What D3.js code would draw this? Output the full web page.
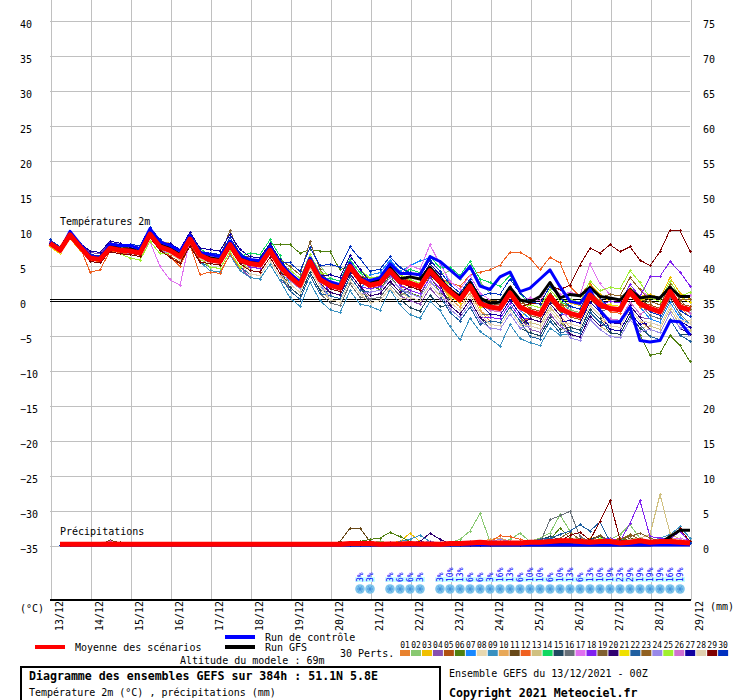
<!DOCTYPE html>
<html>
<head>
<meta charset="utf-8">
<script src="https://cdn.jsdelivr.net/npm/d3@7"></script>
<style>
body { margin: 0; background: #fff; }
text { font-family: "DejaVu Sans Mono", monospace; }
</style>
</head>
<body>
<div id="chart"></div>
<script>
// dates (one tick per day, 6h steps between)
const days = ["13/12","14/12","15/12","16/12","17/12","18/12","19/12","20/12","21/12",
  "22/12","23/12","24/12","25/12","26/12","27/12","28/12","29/12"];

// 2m temperature, every 6h (65 steps)
const meanTemp = [8.1,7.1,9.3,7.6, 6,5.8,7.4,7.1, 7,6.7,9.4,7.6, 7.1,6.2,8.7,6.4, 5.7,5.5,7.9,5.7, 5.2,5,7.1,4.8, 3.3,2.1,5.5,2.9, 2.1,1.7,4.8,2.9, 2.1,2.4,4.2,2.6, 2.4,1.9,4.2,2.6, 1.2,0,2,-0.5, -1,-1.2,1,-1, -1.7,-2.1,0.5,-1.2, -1.9,-2.3,0.7,-0.7, -1.2,-1.4,1.2,-0.5, -1.2,-1.7,1.2,-1, -1.4];
const ctrlTemp = [8.3,7,9.8,8, 6.3,6,8,7.8, 7.8,7.3,10.2,8.3, 7.8,7,9.2,6.8, 6.5,6.2,8.4,6.3, 5.8,5.6,7.6,5.3, 3.8,2.6,6,3.4, 2.6,2.2,5.3,3, 2.8,3.2,5.2,3.8, 3.8,3.6,6.2,5.5, 4.3,3.1,4.8,2, 1.5,3.3,4,1.2, 1.7,3,4.3,1.9, -0.2,-0.5,1.5,-1.5, -3.1,-3.1,-1,-5.8, -6,-5.8,-3,-3.1, -5];
const gfsTemp = [8.2,7.2,9.5,7.8, 6.2,6,7.8,7.3, 7.3,6.9,9.8,7.9, 7.4,6.5,9,6.6, 6,5.8,8.3,6, 5.5,5.3,7.5,5, 3.5,2.5,5.8,3.2, 2.5,2,5,3.2, 2.6,2.9,4.7,3, 3.3,3,4.7,3, 1.5,0.5,2.5,0.3, -0.5,-0.3,1.8,0, -0.3,0.5,2.5,0.3, 0.8,0.6,1.8,0.5, 0.3,0,1.5,0.3, 0.5,0.3,1.8,0.5, 0.5];

const t01 = [8.1,7.1,9.3,7.6, 5.5,5.3,6.9,6.6, 7,6.7,9.4,7.6, 6.8,5.9,8.4,6.1, 4.7,4.5,6.9,4.7, 3.7,3.5,5.6,3.3, 2.3,1.1,4.5,1.9, 0.1,-0.3,2.8,0.9, 1.1,1.4,3.2,1.6, 2.4,1.9,4.2,2.6, 0.2,-1,1,-1.5, -3,-3.2,-1,-3, -2.7,-3.1,-0.5,-2.2, -1.9,-2.3,0.7,-0.7, -0.2,-0.4,2.2,0.5, -1.2,-1.7,1.2,-1, -2.4];
const t02 = [8.4,7.4,9.6,7.9, 6.5,6.3,7.9,7.6, 6.5,6.2,8.9,7.1, 7.1,6.2,8.7,6.4, 6.7,6.5,8.9,6.7, 5.7,5.5,7.6,5.3, 5.3,4.1,7.5,4.9, 3.1,2.7,5.8,3.9, 2.1,2.4,4.2,2.6, 3.4,2.9,5.2,3.6, 4.2,3,5,2.5, 1,0.8,3,1, -0.7,-1.1,1.5,-0.2, -1.4,-1.8,1.2,-0.2, -1.7,-1.9,0.7,-1, -0.2,-0.7,2.2,0, 0.6];
const t03 = [7.9,6.9,9.1,7.4, 6.3,6.1,7.7,7.4, 7.5,7.2,9.9,8.1, 7.9,7,9.5,7.2, 6.2,6,8.4,6.2, 4.7,4.5,6.6,4.3, 2.3,1.1,4.5,1.9, 2.6,2.2,5.3,3.4, 3.1,3.4,5.2,3.6, 2.9,2.4,4.7,3.1, 0.2,-1,1,-1.5, -2.5,-2.7,-0.5,-2.5, -1.2,-1.6,1,-0.7, -0.4,-0.8,2.2,0.8, -0.2,-0.4,2.2,0.5, 0.8,0.3,3.2,1, 0.1];
const t04 = [8.6,7.6,9.8,8.1, 6.8,6.6,8.2,7.9, 7.3,7,9.7,7.9, 6.6,5.7,8.2,5.9, 4.7,4.5,6.9,4.7, 3.2,3,5.1,2.8, 1.8,0.6,4,1.4, 1.1,0.7,3.8,1.9, 0.1,0.4,2.2,0.6, -0.1,-0.6,1.7,0.1, 0.2,-1,1,-1.5, -2.5,-2.7,-0.5,-2.5, -4.2,-4.6,-2,-3.7, -4.9,-5.3,-2.3,-3.7, -3.2,-3.4,-0.8,-2.5, -2.7,-3.2,-0.3,-2.5, -3.4];
const t05 = [8.1,7.1,9.3,7.6, 5.7,5.5,7.1,6.8, 6.5,6.2,8.9,7.1, 6.3,5.4,7.9,5.6, 5.7,5.5,7.9,5.7, 5.7,5.5,7.6,5.3, 4.3,3.1,6.5,3.9, 2.1,1.7,4.8,2.9, 1.6,1.9,3.7,2.1, 3.4,2.9,5.2,3.6, 1.2,0,2,-0.5, -0.5,-0.7,1.5,-0.5, -0.7,-1.1,1.5,-0.2, -2.4,-2.8,0.2,-1.2, -1.2,-1.4,1.2,-0.5, -0.7,-1.2,1.7,-0.5, -0.9];
const t06 = [8.1,7.1,9.3,7.6, 6.2,6,7.6,7.3, 6.7,6.4,9.1,7.3, 7.1,6.2,8.7,6.4, 6.2,6,8.4,6.2, 5.5,5.5,8,7.9, 7.9,6.7,7.2,7, 6.9,4.3,5,2.5, 2,1.5,3.5,1.5, 1,0.5,3.5,1, 0.2,-1,1,-1.5, -2.5,-2.7,-0.5,-2.5, -3.7,-4.1,-1.5,-3.2, -4.4,-4.8,-1.8,-3.2, -4.2,-4.4,-1.8,-5, -7.9,-7.6,-5.1,-6.5, -8.8];
const t07 = [8.4,7.4,9.6,7.9, 6,5.8,7.4,7.1, 7.5,7.2,9.9,8.1, 7.6,6.7,9.2,6.9, 6.7,6.5,8.9,6.7, 5.7,5.5,7.6,5.3, 2.3,1.1,4.5,1.9, 0.6,0.2,3.3,1.4, 3.6,3.9,5.7,4.1, 4.9,5.6,6,5.5, 2.2,1,3,0.5, -1.5,-1.7,0.5,-1.5, -2.7,-3.1,-0.5,-2.2, -0.9,-1.3,1.7,0.3, -1.7,-1.9,0.7,-1, -2.7,-3.2,-0.3,-2.5, -3.4];
const t08 = [7.8,6.8,9,7.3, 6,5.8,7.4,7.1, 7.3,7,9.7,7.9, 7.9,7,9.5,7.2, 6.2,6,8.4,6.2, 4.7,4.5,6.6,4.3, 2.8,1.6,5,2.4, 0.6,0.2,3.3,1.4, 1.1,1.4,3.2,1.6, 1.4,0.9,3.2,1.6, -0.8,-2,0,-2.5, -3.5,-3.7,-1.5,-3.5, -4.7,-5.1,-2.5,-4.2, -4.4,-4.8,-1.8,-3.2, -4.2,-4.4,-1.8,-3.5, -3.2,-3.7,-0.8,-3, -2.9];
const t09 = [7.9,6.9,9.1,7.4, 6,5.8,7.4,7.1, 6.5,6.2,8.9,7.1, 6.1,5.2,7.7,5.4, 4.2,4,6.4,4.2, 3.2,3,5.1,2.8, 0.3,-0.9,2.5,-0.1, -1.4,-1.8,1.3,-0.6, -0.9,-1.5,1.5,-0.7, -2.1,-2.6,-0.2,-1.5, -3.8,-5.7,-2.6,-4.5, -5.5,-6.6,-3.5,-5.5, -6.1,-6.5,-4,-5, -4.9,-5.3,-2.3,-3.7, -3.7,-3.9,-1.3,-3, -3.2,-3.7,-0.8,-3, -3.9];
const t10 = [8.3,7.3,9.5,7.8, 6.5,6.3,7.9,7.6, 7.8,7.5,10.2,8.4, 8.1,7.2,9.7,7.4, 6.2,6,8.4,6.2, 5.2,5,7.1,4.8, 3.8,2.6,6,3.4, 1.6,1.2,4.3,2.4, 2.1,2.4,4.2,2.6, 1.9,1.4,3.7,2.1, 0.2,-1,1,-1.5, -2.5,-2.7,-0.5,-2.5, -2.7,-3.1,-0.5,-2.2, -3.9,-4.3,-1.3,-2.7, -3.7,-3.9,-1.3,-3, -4.2,-4.7,-1.8,-4, -3.9];
const t11 = [8.1,7.1,9.3,7.6, 5.5,5.3,6.9,6.6, 6.7,6.4,9.1,7.3, 7.1,6.2,8.7,6.4, 6.2,6,8.4,6.2, 6.2,6,8.1,5.8, 3.8,2.6,6,3.4, 2.1,1.7,4.8,2.9, 1.6,1.9,3.7,2.1, 2.9,2.4,4.7,3.1, 2.2,1,3,0.5, -1,-1.2,1,-1, -2.2,-2.6,0,-1.7, -1.9,-2.3,0.7,-0.7, -0.2,-0.4,2.2,0.5, -1.2,-1.7,1.2,-1, -1.9];
const t12 = [8.1,7.1,9.3,7.6, 4,4.3,7,6.8, 6.5,6.2,8.9,7.1, 6.2,4.8,7.8,3.6, 4,3.8,6.6,4.5, 4.7,4.5,6.6,4.3, 3.3,2.1,5.5,2.9, 2.6,2.2,5.3,3.4, 2.6,2.9,4.7,3.1, 2.9,2.4,4.7,3.1, 2.5,2,3.5,4, 4.3,5,6.8,6.8, 6,4.3,6.1,5.3, 1.9,0.5,2.5,0, -1.7,-1.9,0.7,-1, -1.2,-1.7,1.2,-1, -1.4];
const t13 = [7.6,6.6,8.8,7.1, 5.7,5.5,7.1,6.8, 7,6.7,9.4,7.6, 7.4,6.5,9,6.7, 5.7,5.5,7.9,5.7, 4.2,4,6.1,3.8, 1.8,0.6,4,1.4, 0.1,-0.3,2.8,0.9, 0.6,0.9,2.7,1.1, 0.4,-0.1,2.2,0.6, -1.8,-3,-1,-3.5, -3,-3.2,-1,-3, -3.2,-3.6,-1,-2.7, -4.9,-5.3,-2.3,-3.7, -4.7,-4.9,-2.3,-4, -3.7,-4.2,-1.3,-3.5, -4.4];
const t14 = [8.4,7.4,9.6,7.9, 6,5.8,7.4,7.1, 7.5,7.2,9.9,8.1, 8.1,7.2,9.7,7.4, 6.2,6,8.4,6.2, 6.7,6.5,8.6,6.3, 3.3,2.1,5.5,2.9, 3.1,2.7,5.8,3.9, 3.1,3.4,5.2,3.6, 4.4,3.9,6.2,4.6, 4.7,3.5,5.5,3, 2.5,2,3.5,1, -0.7,-1.1,1.5,-0.2, -0.9,-1.3,1.7,0.3, 0.8,0.6,3.2,1.5, 0.3,-0.2,2.7,0.5, -0.4];
const t15 = [8.1,7.1,9.3,7.6, 6.5,6.3,7.9,7.6, 7,6.7,9.4,7.6, 7.6,6.7,9.2,6.9, 5.7,5.5,7.9,5.7, 4.7,4.5,6.6,4.3, 1.8,0.6,4,1.4, 1.1,0.7,3.8,1.9, -0.4,-0.1,1.7,0.1, -1.1,-1.6,0.7,-0.9, -0.8,-2,0,-2.5, -4,-4.2,-2,-4, -4.7,-5.1,-2.5,-4.2, -3.9,-4.3,-1.3,-2.7, -4.7,-4.9,-2.3,-4, -5.2,-5.7,-2.8,-5, -4.9];
const t16 = [7.8,6.8,9,7.3, 5.5,5.3,6.9,6.6, 7,6.7,9.4,7.6, 7.1,6.2,8.7,6.4, 5.2,5,7.4,5.2, 4.2,4,6.1,3.8, 1.3,0.1,3.5,0.9, -0.4,-0.8,2.3,0.4, 0.1,0.4,2.2,0.6, 1.4,0.9,3.2,1.6, -0.3,-1.5,0.5,-2, -2,-2.2,0,-2, -3.7,-4.1,-1.5,-3.2, -2.9,-3.3,-0.3,-1.7, -1.2,-1.4,1.2,-0.5, -2.2,-2.7,0.2,-2, -3.4];
const t17 = [8.3,7.3,9.5,7.8, 6,5.8,7.4,7.1, 7,6.6,8.3,4.8, 2.9,2.1,8.6,6, 6.2,6,8.4,6.2, 5.2,5,7.1,4.8, 4.3,3.1,6.5,3.9, 2.6,2.2,5.3,3.4, 3.1,3.4,5.2,3.6, 4.9,4.4,7.9,5.1, 2.7,1.5,3.5,1, 0,-0.2,2,0, 0.3,-0.1,2.5,0.8, 1.1,0.7,5.2,2.3, 0.8,0.6,3.2,1.5, 0.3,-0.2,2.7,0.5, 0.6];
const t18 = [8.6,7.6,9.8,8.1, 6.3,6.1,7.7,7.4, 7,6.7,9.4,7.6, 7.6,6.7,9.2,6.9, 5.7,5.5,7.9,5.7, 4.7,4.5,6.6,4.3, 3.8,2.6,6,3.4, 1.1,0.7,3.8,1.9, 1.6,1.9,3.7,2.1, 1.4,0.9,3.2,1.6, -0.8,-2,0,-2.5, -2.5,-2.7,-0.5,-2.5, -2.7,-3.1,-0.5,-2.2, -1.9,-2.3,0.7,-0.7, -0.2,-0.4,2.2,0.5, 3.3,3.4,5.5,4, 2];
const t19 = [8.1,7.1,9.3,7.6, 6.3,6.1,7.7,7.4, 7.8,7.5,10.2,8.4, 7.6,6.7,9.2,6.9, 6.2,6,10,6.2, 6.2,6,8.1,5.8, 4.8,3.6,8.3,4.4, 2.1,1.7,4.8,2.9, 2.1,2.4,4.2,2.6, 1.9,1.4,3.7,2.1, 1.2,0,2,-0.5, -0.5,-0.7,1.5,-0.5, -2.2,-2.6,0,-1.7, -1.9,-2.3,0.7,-0.7, -0.7,-0.9,1.7,0, -0.2,-0.7,2.2,0, -1.4];
const t20 = [8.6,7.6,9.8,8.1, 6,5.8,7.4,7.1, 7.5,7.2,9.9,8.1, 7.1,6.2,8.7,6.4, 5.2,5,7.4,5.2, 5.2,5,7.1,4.8, 2.8,1.6,5,2.4, 1.1,0.7,3.8,1.9, 0.6,0.9,2.7,1.1, 1.9,1.4,3.7,2.1, -0.8,-2,0,-2.5, -3.5,-3.7,-1.5,-3.5, -2.7,-3.1,-0.5,-2.2, -4.9,-5.3,-2.3,-3.7, -3.2,-3.4,-0.8,-2.5, -4.2,-4.7,-1.8,-4, -4.9];
const t21 = [7.6,6.6,8.8,7.1, 5.7,5.5,7.1,6.8, 7.3,7,9.7,7.9, 7.1,6.2,8.7,6.4, 5.7,5.5,7.9,5.7, 5.7,5.5,7.6,5.3, 3.3,2.1,5.5,2.9, 1.6,1.2,4.3,2.4, 2.1,2.4,4.2,2.6, 2.9,2.4,4.7,3.1, 0.7,-0.5,1.5,-1, -1,-1.2,1,-1, -1.2,-1.6,1,-0.7, -1.9,-2.3,0.7,-0.7, -0.7,-0.9,1.7,0, 0.3,-0.2,2.7,0.5, -0.4];
const t22 = [8.1,7.1,9.3,7.6, 5.5,5.3,6.9,6.6, 6.5,6.2,8.9,7.1, 6.1,5.2,7.7,5.4, 4.7,4.5,6.9,4.7, 3.7,3.5,5.6,3.3, 1.3,0.1,3.5,0.9, 0.6,0.2,3.3,1.4, 1.1,1.4,3.2,1.6, 0.4,-0.1,2.2,0.6, -1.8,-3,-1,-3.5, -3,-3.2,-1,-3, -5.2,-5.6,-3,-4.7, -4.4,-4.8,-1.8,-3.2, -4.2,-4.4,-1.8,-3.5, -5.2,-5.7,-2.8,-5, -5.9];
const t23 = [8.4,7.4,9.6,7.9, 6.5,6.3,7.9,7.6, 7.5,7.2,9.9,8.1, 7.4,6.5,9,6.7, 6.7,6.5,8.9,6.7, 5.7,5.5,7.6,5.3, 4.3,3.1,6.5,3.9, 2.6,2.2,5.3,3.4, 3.1,3.4,5.2,3.6, 2.4,1.9,4.2,2.6, 1.7,0.5,2.5,0, 0,-0.2,2,0, -1.2,-1.6,1,-0.7, -0.9,-1.3,1.7,0.3, 0.8,0.6,3.2,1.5, -0.2,-0.7,2.2,0, 0.1];
const t24 = [8.1,7.1,9.3,7.6, 6.3,6.1,7.7,7.4, 6.5,6.2,8.9,7.1, 6.6,5.7,8.2,5.9, 5.2,5,7.4,5.2, 4.2,4,6.1,3.8, 2.8,1.6,5,2.4, 0.1,-0.3,2.8,0.9, 1.1,1.4,3.2,1.6, 0.9,0.4,2.7,1.1, -1.3,-2.5,-0.5,-3, -4,-4.2,-2,-4, -3.7,-4.1,-1.5,-3.2, -5.4,-5.8,-2.8,-4.2, -5.2,-5.4,-2.8,-4.5, -4.2,-4.7,-1.8,-4, -3.9];
const t25 = [8.1,7.1,9.3,7.6, 5.5,5.3,6.9,6.6, 6,5.7,8.4,6.6, 6.6,5.7,8.2,5.9, 4.7,4.5,6.9,4.7, 5.2,5,7.1,4.8, 4.3,3.1,6.5,3.9, 3.6,3.2,6.3,4.4, 3.1,3.4,5.2,3.6, 2.9,2.4,4.7,3.1, 2.2,1,3,0.5, -1,-1.2,1,-1, -0.7,-1.1,1.5,-0.2, 0.1,-0.3,2.7,1.3, 1.8,1.6,4.2,2.5, 0.3,-0.2,2.7,0.5, 1.1];
const t26 = [8.3,7.3,9.5,7.8, 6,5.8,7.4,7.1, 7.5,7.2,9.9,8.1, 7.4,6.5,9,6.7, 6.2,6,8.4,6.2, 5.2,5,7.1,4.8, 3.8,2.6,6,3.4, 2.6,2.2,5.3,3.4, 2.1,2.4,4.2,2.6, 3.4,2.9,5.2,3.6, 1.2,0,2,-0.5, -1.5,-1.7,0.5,-1.5, -1.7,-2.1,0.5,-1.2, -2.9,-3.3,-0.3,-1.7, -2.7,-2.9,-0.3,-2, -1.2,-1.7,1.2,-1, -1.9];
const t27 = [8.6,7.6,9.8,8.1, 7,6.8,8.4,8.1, 7.5,7.2,9.9,8.1, 8.1,7.2,9.7,7.4, 7.2,7,9.4,7.2, 6.2,6,8.1,5.8, 3.8,2.6,6,3.4, 3.6,3.2,6.3,4.4, 2.6,2.9,4.7,3.1, 3.4,2.9,5.2,3.6, 1.2,0,2,-0.5, -2,-2.2,0,-2, -3.7,-4.1,-1.5,-3.2, -2.9,-3.3,-0.3,-1.7, -4.2,-4.4,-1.8,-3.5, -3.2,-3.7,-0.8,-3, -3.9];
const t28 = [7.8,6.8,9,7.3, 6.5,6.3,7.9,7.6, 7,6.7,9.4,7.6, 6.6,5.7,8.2,5.9, 5.2,5,7.4,5.2, 3.7,3.5,5.6,3.3, 2.3,1.1,4.5,1.9, 0.1,-0.3,2.8,0.9, -0.4,-0.1,1.7,0.1, 0.4,-0.1,2.2,0.6, -0.3,-1.5,0.5,-2, -3.5,-3.7,-1.5,-3.5, -3.7,-4.1,-1.5,-3.2, -3.4,-3.8,-0.8,-2.2, -3.7,-3.9,-1.3,-3, -3.2,-3.7,-0.8,-3, -3.4];
const t29 = [8.1,7.1,9.3,7.6, 5.5,5.3,6.9,6.6, 6.5,6.2,8.9,7.1, 6.1,5.2,7.7,5.4, 5.2,5,7.4,5.2, 4.2,4,6.1,3.8, 3.3,2.1,5.5,2.9, 1.6,1.2,4.3,2.4, 2.1,2.4,4.2,2.6, 1.9,1.4,3.7,2.1, 1.7,0.5,2.5,0, -1,-1.2,1,-1, -0.5,-0.5,2,1.5, 2.1,5,7.4,6.7, 7.9,6.9,7.6,5.7, 4.9,6.9,10,9.9, 7];
const t30 = [8.6,7.6,9.8,8.1, 6.5,6.3,7.9,7.6, 8,7.7,10.4,8.6, 7.6,6.7,9.2,6.9, 6.7,6.5,8.9,6.7, 5.7,5.5,7.6,5.3, 5.3,4.1,7.5,4.9, 5.1,4.7,7.6,5.9, 4.1,4.4,6.2,4.6, 3.9,3.4,5.7,4.1, 2.2,1,3,0.5, 1,0.8,3,1, -0.2,-0.6,2,0.3, -0.9,-1.3,1.7,0.3, -1.2,-1.4,1.2,-0.5, -1.7,-2.2,0.7,-1.5, -2.4];
const memberTemps = [t01,t02,t03,t04,t05,t06,t07,t08,t09,t10,t11,t12,t13,t14,t15,
  t16,t17,t18,t19,t20,t21,t22,t23,t24,t25,t26,t27,t28,t29,t30];

// precipitation per 6h (mm); the first step has no accumulation yet
const meanRain = [null,0.1,0.1,0.1, 0.1,0.1,0.15,0.1, 0.1,0.1,0.1,0.1, 0.1,0.1,0.1,0.1, 0.1,0.1,0.1,0.1, 0.1,0.1,0.1,0.1, 0.1,0.1,0.1,0.1, 0.1,0.1,0.2,0.2, 0.2,0.1,0.15,0.15, 0.2,0.15,0.15,0.1, 0.2,0.2,0.3,0.4, 0.3,0.3,0.3,0.3, 0.4,0.4,0.5,0.6, 0.6,0.5,0.4,0.5, 0.5,0.3,0.4,0.6, 0.4,0.5,0.5,0.4, 0.3];
const ctrlRain = [null,0,0,0, 0,0,0,0, 0,0,0,0, 0,0,0,0, 0,0,0,0, 0,0,0,0, 0,0,0,0, 0,0,0,0, 0,0,0,0, 0,0,0,0, 0,0,0,0, 0,0,0,0, 0,0,0,0, 0,0,0,0, 0,0,0,0, 0,0,0,0, 0];
const gfsRain = [null,0,0,0, 0,0,0,0, 0,0,0,0, 0,0,0,0, 0,0,0,0, 0,0,0,0, 0,0,0,0, 0,0,0,0, 0,0,0,0, 0,0,0,0, 0,0,0,0, 0,0,0,0, 0,0,0,0, 0,0,0,0, 0,0,0,0, 0,0.2,1.2,2.1, 2.1];

const r01 = [null,0,0,0, 0,0,0.2,0, 0,0,0,0, 0,0,0,0, 0,0,0,0, 0,0,0,0, 0,0,0,0, 0,0,0,0.3, 0.5,0.3,0,0, 0,0,0.3,0, 0,0.2,0.5,0.3, 0.2,0,0.3,0.2, 0.5,0.8,0.5,0.3, 0.5,1,0.5,0.2, 0.3,0.5,0.8,0.3, 0.2,0.3,0.5,0.3, 0.2];
const r02 = [null,0,0,0, 0,0,0,0, 0,0,0,0, 0,0,0,0, 0,0,0,0, 0,0,0,0, 0,0,0,0, 0,0,0,0, 0.3,0.5,0.3,0, 0,0.2,0.3,0.2, 0.3,0.8,2,4.5, 0.5,0.3,0.8,1.7, 0.5,1,1.7,4.3, 2,0.5,0.3,0.5, 0.8,1.5,2.9,1, 0.5,0.3,0.5,0.2, 0.2];
const r03 = [null,0,0,0, 0,0,0,0, 0,0,0.2,0, 0,0,0,0, 0,0,0,0, 0,0,0,0, 0,0,0,0, 0,0,0,0, 0,0,0.3,0.5, 1.7,0.5,0.2,0, 0,0,0.2,0.3, 0.2,0,0.3,0.2, 0.3,0.5,0.3,0.2, 0.2,0.5,1,0.3, 0.2,0.3,0.5,0.2, 0.3,0.5,1,0.5, 0.3];
const r04 = [null,0,0,0, 0,0,0,0, 0,0,0,0, 0,0,0,0, 0,0,0,0, 0,0,0,0, 0,0,0,0, 0,0,0,0, 0,0.2,0.3,0.2, 0.3,0.5,0.3,0, 0,0,0.2,0, 0.2,0.3,0.5,0.3, 0.5,0.3,0.2,0.5, 0.8,0.5,0.3,0.2, 0.3,0.5,0.3,0.2, 0.2,0.3,0.2,0.2, 0.2];
const r05 = [null,0,0,0, 0,0,0,0, 0,0,0,0, 0,0,0,0, 0,0,0,0, 0,0,0,0, 0,0,0,0, 0,0,0,0, 0,0,0,0, 0,0,0,0, 0,0,0.3,0.5, 0.5,0.3,0.2,0, 0.2,0.5,0.8,0.3, 0.2,0.5,0.8,0.3, 0.5,1,0.5,0.3, 0.2,0.5,0.3,0.2, 0.2];
const r06 = [null,0,0,0, 0,0,0,0, 0,0,0,0, 0,0,0,0, 0,0,0,0, 0,0,0,0, 0,0,0,0, 0,0,0,0.5, 0.8,1,1.8,1.2, 0.5,0.2,0,0, 0,0.5,0.2,0, 0.2,0,0.3,0.2, 0.3,0.5,0.8,2.4, 1,0.5,0.3,0.2, 0.5,0.3,1.5,0.8, 0.3,0.5,0.3,0.2, 0.2];
const r07 = [null,0,0,0, 0,0,0,0, 0,0,0,0, 0,0,0,0, 0,0,0,0, 0,0,0,0, 0,0,0,0, 0,0,0,0, 0,0,0,0, 0,0,0.2,0, 0,0.2,0.3,0.5, 0.3,0.2,0.5,0.3, 0.2,0.5,1,0.5, 0.3,0.2,0.3,0.5, 0.8,0.5,0.3,0.2, 0.2,0.3,0.5,0.3, 0.2];
const r08 = [null,0,0,0, 0,0,0,0, 0,0,0,0, 0,0,0,0, 0,0,0,0, 0,0,0,0, 0,0,0,0, 0,0,0,0, 0,0,0,0, 0,0,0,0, 0,0,0.2,0.3, 0.2,0,0.2,0.3, 0.5,0.3,0.2,0.3, 0.5,0.3,0.2,0.3, 0.5,0.8,0.5,0.3, 0.5,0.3,0.8,0.5, 0.3];
const r09 = [null,0,0,0, 0,0,0,0, 0,0,0,0, 0,0,0,0, 0,0,0,0, 0,0,0,0, 0,0,0,0, 0,0,0,0, 0,0,0.2,0.5, 0.8,1.4,0.5,0.2, 0,0,0.2,0.3, 0.5,0.3,0.2,0.5, 0.3,0.2,0.5,0.8, 0.5,0.3,0.5,0.3, 0.5,0.8,0.5,0.3, 0.5,1,1.5,2.6, 1];
const r10 = [null,0,0,0, 0,0,0,0, 0,0,0,0, 0,0,0,0, 0,0,0,0, 0,0,0,0, 0,0,0,0, 0,0,0,0, 0,0,0,0, 0,0,0,0, 0,0,0.3,0.5, 0.8,1,0.5,0.3, 0.2,0.3,0.5,0.2, 0.3,0.5,0.3,0.2, 0.3,0.5,0.3,0.2, 0.2,0.3,0.5,0.2, 0.2];
const r11 = [null,0,0,0, 0,0,0.7,0.3, 0,0,0,0, 0,0,0,0, 0,0,0,0, 0,0,0,0, 0,0,0,0, 0,0.5,2.4,2.4, 0.5,0.2,0,0, 0,0,0,0.2, 0,0,0.2,0, 0.2,0.3,0.2,0, 0.2,0.3,0.5,0.3, 0.5,0.3,0.8,1.4, 0.5,0.3,1,0.5, 0.3,0.5,0.8,0.3, 0.2];
const r12 = [null,0,0,0, 0,0,0,0, 0,0,0,0, 0,0,0,0, 0,0,0,0, 0,0,0,0, 0,0,0,0, 0,0,0,0, 0,0,0,0, 0,0,0,0.2, 0.3,0.2,0.5,0.3, 0.5,1.3,1.2,0.8, 0.5,0.3,0.2,0.3, 0.2,0.5,0.3,0.2, 0.3,0.2,0.5,0.3, 0.2,0.3,0.2,0.2, 0.2];
const r13 = [null,0,0,0, 0,0,0,0, 0,0,0,0, 0,0,0,0, 0,0,0,0, 0,0,0,0, 0,0,0,0, 0,0,0,0, 0,0,0,0, 0,0,0,0, 0,0,0.2,0, 0.2,0.3,0.2,0.3, 0.2,0.5,0.3,0.2, 0.3,0.5,0.8,0.5, 0.3,0.5,0.8,1, 1.5,7.2,1.7,0.8, 0.3];
const r14 = [null,0,0,0, 0,0,0,0, 0,0,0,0, 0,0,0,0, 0,0,0,0, 0,0,0,0, 0,0,0,0, 0,0,0,0, 0,0,0,0, 0,0,0,0, 0.2,0.5,0.3,0.2, 0.5,0.8,0.5,0.3, 0.3,0.5,0.3,0.2, 0.3,0.2,0.5,0.3, 0.2,0.3,0.5,0.2, 0.2,0.3,0.2,0.2, 0.2];
const r15 = [null,0,0,0, 0,0,0,0, 0,0,0,0, 0,0,0,0, 0,0,0,0, 0,0,0,0, 0,0,0,0, 0,0,0,0, 0,0,0,0, 0,0,0.2,0, 0,0.2,0.3,0.2, 0.3,0.2,0.5,0.3, 0.5,0.8,1.2,0.8, 0.5,0.3,0.8,1.2, 0.5,0.3,0.5,0.8, 0.5,0.3,0.2,0.5, 0.3];
const r16 = [null,0,0,0, 0,0,0,0, 0,0,0,0, 0,0,0,0, 0,0,0,0, 0,0,0,0, 0,0,0,0, 0,0,0,0, 0,0,0,0, 0,0,0,0, 0,0,0.2,0.3, 0.2,0.3,0.2,0.5, 0.5,0.3,3.6,4.2, 4.8,1.2,0.5,0.3, 0.5,0.3,0.2,0.5, 0.3,0.2,0.5,0.3, 0.2];
const r17 = [null,0,0,0, 0,0,0.5,0.2, 0,0,0,0, 0,0,0,0, 0,0,0,0, 0,0,0,0, 0,0,0,0, 0,0,0,0, 0,0,0,0, 0,0,0,0, 0,0,0,0.2, 0.3,0.2,0,0.2, 0.3,0.5,0.3,0.2, 0.5,0.3,0.2,0.5, 0.8,0.5,0.3,0.5, 0.3,0.5,0.8,1, 0.5];
const r18 = [null,0,0,0, 0,0,0,0, 0,0,0,0, 0,0,0,0, 0,0,0,0, 0,0,0,0, 0,0,0,0, 0,0,0,0, 0,0,0,0, 0,0,0,0, 0,0,0.2,0, 0.2,0.3,0.2,0.3, 0.5,0.3,0.2,0.3, 0.5,0.3,0.5,0.8, 1,0.5,3.1,6.3, 1.2,1,0.8,2, 0.3];
const r19 = [null,0,0,0, 0,0,0,0, 0,0,0,0, 0,0,0,0, 0,0,0,0, 0,0,0,0, 0,0,0,0, 0,0,0,0, 0,0,0,0, 0,0,0,0, 0,0,0,0.2, 0.2,0.3,0.2,0.2, 0.3,0.5,0.3,1, 1.8,0.8,0.5,1.4, 0.5,0.8,1.2,1.7, 1,0.5,0.3,0.2, 0.2];
const r20 = [null,0,0,0, 0,0,0,0, 0,0,0,0, 0,0,0,0, 0,0,0,0, 0,0,0,0, 0,0,0,0, 0,0,0,0, 0,0,0,0, 0,0.5,1.7,0.8, 0.2,0,0,0, 0.2,0.3,0.2,0, 0.3,0.2,0.5,0.3, 0.5,0.8,0.5,0.3, 0.2,0.3,0.5,0.8, 0.3,0.5,0.3,0.2, 0.2];
const r21 = [null,0,0,0, 0,0,0,0, 0,0,0,0, 0,0,0,0, 0,0,0,0, 0,0,0,0, 0,0,0,0, 0,0,0,0, 0,0,0,0, 0,0,0.2,0, 0,0,0.3,0.2, 0.2,0.3,0.2,0.2, 0.3,0.2,0.5,0.3, 0.2,0.3,0.2,0.5, 0.8,0.5,0.3,0.2, 0.5,0.3,0.5,0.3, 0.2];
const r22 = [null,0,0,0, 0,0,0,0, 0,0,0,0, 0,0,0,0, 0,0,0,0, 0,0,0,0, 0,0,0,0, 0,0,0,0, 0,0,0,0, 0,0,0,0, 0,0,0,0, 0.2,0.3,0.2,0.3, 0.5,0.8,1,1.5, 2,2.9,2,3.3, 0.5,0.3,0.5,0.3, 0.2,0.5,0.8,0.5, 0.3];
const r23 = [null,0,0,0, 0,0,0,0, 0,0,0,0, 0,0,0,0, 0,0,0,0, 0,0,0,0, 0,0,0,0, 0,0,0,0, 0,0,0,0, 0,0,0,0, 0,0,0,0, 0,0.2,0.3,0.2, 0.2,0.3,0.5,0.3, 0.5,0.3,0.5,0.8, 0.5,0.8,1.5,0.8, 0.3,0.5,0.3,0.2, 0.2];
const r24 = [null,0,0,0, 0,0,0,0, 0,0,0,0, 0,0,0,0, 0,0,0,0, 0,0,0,0, 0,0,0,0, 0,0,0,0, 0,0,0,0, 0,0.3,0.5,0.3, 0.2,0.3,0.5,0.3, 0.5,0.8,0.5,0.3, 0.2,0.3,0.5,0.3, 0.2,0.3,0.5,0.3, 0.2,0.5,0.3,0.2, 0.5,0.3,0.2,0.3, 0.2];
const r25 = [null,0,0,0, 0,0,0,0, 0,0,0,0, 0,0,0,0, 0,0,0,0, 0,0,0,0, 0,0,0,0, 0,0,0,0, 0,0,0,0, 0,0,0,0, 0,0,0,0.2, 0.2,0,0.2,0.3, 0.2,0.3,0.5,0.3, 0.3,0.5,0.3,1, 0.5,0.3,0.5,0.3, 0.2,0.3,0.5,0.3, 0.2];
const r26 = [null,0,0,0, 0,0,0.3,0.2, 0,0,0,0, 0,0,0,0, 0,0,0,0, 0,0,0,0, 0,0,0,0, 0,0,0,0, 0,0,0,0, 0,0,0,0, 0,0,0,0, 0,0.2,0.3,0.2, 0.2,0.3,0.2,0.3, 0.5,0.3,0.2,0.5, 0.3,0.5,0.8,0.5, 0.3,0.5,0.3,0.2, 0.2];
const r27 = [null,0,0,0, 0,0,0,0, 0,0,0,0, 0,0,0,0, 0,0,0,0, 0,0,0,0, 0,0,0,0, 0,0,0,0, 0,0,0,0, 0,0,0.3,0.2, 0,0,0.2,0, 0.2,0.3,0.2,0.2, 0.3,0.5,0.3,0.2, 0.5,0.3,0.2,0.3, 0.5,0.3,0.5,0.8, 0.5,0.3,0.5,0.3, 0.2];
const r28 = [null,0,0,0, 0,0,0,0, 0,0,0,0, 0,0,0,0, 0,0,0,0, 0,0,0,0, 0,0,0,0, 0,0,0,0, 0,0,0,0, 0,0,0,0, 0,0,0,0.2, 0.2,0.3,0.2,0.3, 0.2,0.3,0.5,0.3, 0.5,0.3,0.5,0.3, 0.2,0.5,0.8,0.5, 0.3,0.5,0.3,0.5, 0.2];
const r29 = [null,0,0,0, 0,0,0,0, 0,0,0,0, 0,0,0,0, 0,0,0,0, 0,0,0,0, 0,0,0,0, 0,0,0,0, 0,0,0,0, 0,0,0,0, 0,0,0,0, 0,0.2,0.3,0.2, 0.3,0.2,0.3,0.5, 1.4,1.8,0.7,3.4, 6.3,0.7,0.5,0.3, 0.5,0.3,1,2.3, 0.5];
const r30 = [null,0,0,0, 0,0,0,0, 0,0,0,0, 0,0,0,0, 0,0,0,0, 0,0,0,0, 0,0,0,0, 0,0,0,0, 0,0,0,0, 0,0,0,0, 0,0,0,0.2, 0.2,0.3,0.2,0.2, 0.3,0.2,0.5,0.3, 0.2,0.5,0.3,0.2, 0.3,0.5,0.3,0.2, 0.2,0.3,0.5,0.2, 0.2];
const memberRain = [r01,r02,r03,r04,r05,r06,r07,r08,r09,r10,r11,r12,r13,r14,r15,
  r16,r17,r18,r19,r20,r21,r22,r23,r24,r25,r26,r27,r28,r29,r30];

// probability of snow (%) per 6h step, 0 = no icon
const snowPct = [0,0,0,0, 0,0,0,0, 0,0,0,0, 0,0,0,0, 0,0,0,0, 0,0,0,0, 0,0,0,0, 0,0,0,3, 3,0,3,6, 6,3,0,3, 10,13,6,6, 3,16,13,6, 10,10,6,10, 13,6,13,10, 19,23,29,19, 19,19,16,19, 0];

const memberNames = d3.range(1, 31).map(n => String(n).padStart(2, "0"));
const memberColors = ["#e8822f","#88c870","#f0c000","#8850b0","#b05010","#508010","#1888ff","#e8d8b0",
  "#3890c0","#e8a858","#684818","#f06020","#d0c080","#10d860","#204860","#687078","#e070f0","#8020f0",
  "#806030","#300070","#f0e000","#2060a0","#906020","#9888e8","#a0f030","#d070d0","#1000a0","#e0d0b0",
  "#800000","#0030c0"];

const W = 740, H = 700;
const svg = d3.select("#chart").append("svg")
  .attr("width", W).attr("height", H)
  .style("display", "block");

const x = d3.scaleLinear().domain([0, 64]).range([50, 690]);
const yT = d3.scaleLinear().domain([-35, 40]).range([545, 20]);
const yP = d3.scaleLinear().domain([0, 75]).range([545, 20]);
const dayTicks = d3.range(0, 65, 4);

// grid
const gridV = svg.append("g").attr("transform", "translate(0.5,600)")
  .call(d3.axisBottom(x).tickValues(dayTicks).tickSize(-600).tickFormat(""));
const gridH = svg.append("g").attr("transform", "translate(50,0.5)")
  .call(d3.axisLeft(yT).tickValues(d3.range(-35, 41, 5)).tickSize(-640).tickFormat(""));
[gridV, gridH].forEach(g => {
  g.select(".domain").remove();
  g.selectAll("line").attr("stroke", "#c0c0c0").attr("shape-rendering", "crispEdges");
});

// left / right tick labels
const leftAx = svg.append("g").attr("transform", "translate(20,0)")
  .call(d3.axisRight(yT).tickValues(d3.range(-35, 41, 5)).tickSize(0).tickPadding(0));
const rightAx = svg.append("g").attr("transform", "translate(703,0)")
  .call(d3.axisRight(yP).tickValues(d3.range(0, 76, 5)).tickSize(0).tickPadding(0));
[leftAx, rightAx].forEach(g => {
  g.select(".domain").remove();
  g.attr("font-family", "DejaVu Sans Mono").attr("font-size", 10);
  g.selectAll("text").attr("dy", "0.7em").attr("fill", "#000");
});

// freezing line (double)
[299, 301].forEach(yy => {
  svg.append("line").attr("x1", 50).attr("x2", 690).attr("y1", yy + 0.5).attr("y2", yy + 0.5)
    .attr("stroke", "#000").attr("stroke-width", 1).attr("shape-rendering", "crispEdges");
});

const tLine = d3.line().x((d, i) => x(i)).y(d => yT(d));
const pLine = d3.line().defined(d => d != null).x((d, i) => x(i)).y(d => yP(d));
let marks = (s, sc) => s.map((v, i) => {
  if (v == null) return "";
  const px = x(i), py = sc(v);
  return `M${px - 1.5},${py}h3M${px},${py - 1.5}v3`;
}).join("");

const plot = svg.append("g");
let drawSeries = (s, line, sc, col, w, thin) => {
  const p = plot.append("path").attr("d", line(s)).attr("fill", "none")
    .attr("stroke", col).attr("stroke-width", w).attr("stroke-linejoin", "round");
  if (thin) {
    p.attr("shape-rendering", "crispEdges");
    plot.append("path").attr("d", marks(s, sc)).attr("stroke", col).attr("stroke-width", 1)
      .attr("fill", "none").attr("shape-rendering", "crispEdges");
  }
};

memberTemps.forEach((s, k) => drawSeries(s, tLine, yT, memberColors[k], 1, true));
memberRain.forEach((s, k) => drawSeries(s, pLine, yP, memberColors[k], 1, true));
drawSeries(gfsTemp, tLine, yT, "#000", 3, false);
drawSeries(gfsRain, pLine, yP, "#000", 3, false);
drawSeries(ctrlTemp, tLine, yT, "#0000ff", 3, false);
drawSeries(ctrlRain, pLine, yP, "#0000ff", 3, false);
drawSeries(meanTemp, tLine, yT, "#ff0000", 5, false);
drawSeries(meanRain, pLine, yP, "#ff0000", 5, false);

// section titles
svg.append("text").attr("x", 60).attr("y", 225).attr("font-size", 10).text("Températures 2m");
svg.append("text").attr("x", 60).attr("y", 535).attr("font-size", 10).text("Précipitations");

// snow icons
const snow = svg.append("g");
snowPct.forEach((p, i) => {
  if (!p) return;
  const cx = x(i);
  snow.append("rect").attr("x", cx - 5).attr("y", 577).attr("width", 10).attr("height", 5).attr("fill", "#c8ffff");
  snow.append("circle").attr("cx", cx).attr("cy", 589).attr("r", 4.8).attr("fill", "#7cc4ec");
  [0, 60, 120].forEach(a => {
    const r = Math.PI * a / 180;
    snow.append("line")
      .attr("x1", cx - 3 * Math.cos(r)).attr("y1", 589 - 3 * Math.sin(r))
      .attr("x2", cx + 3 * Math.cos(r)).attr("y2", 589 + 3 * Math.sin(r))
      .attr("stroke", "#3a86d8").attr("stroke-width", 0.8);
  });
  snow.append("text").attr("transform", `translate(${cx + 2.5},582) rotate(-90)`)
    .attr("font-size", 8).attr("fill", "#0000ff").text(p + "%");
});

// bottom axis
svg.append("line").attr("x1", 50).attr("x2", 691).attr("y1", 600).attr("y2", 600)
  .attr("stroke", "#000").attr("stroke-width", 2);
const xAx = svg.append("g").attr("transform", "translate(0,600)")
  .call(d3.axisBottom(x).tickValues(dayTicks).tickSize(0).tickFormat(i => days[i / 4]));
xAx.select(".domain").remove();
xAx.attr("font-family", "DejaVu Sans Mono").attr("font-size", 10);
xAx.selectAll("text").attr("y", 0).attr("dy", 0).attr("text-anchor", "start")
  .attr("fill", "#000").attr("transform", "translate(12,31) rotate(-90)");

svg.append("text").attr("x", 20).attr("y", 612).attr("font-size", 10).text("(°C)");
svg.append("text").attr("x", 710).attr("y", 610).attr("font-size", 10).text("(mm)");

// legend
const leg = svg.append("g").attr("font-size", 10);
leg.append("line").attr("x1", 35).attr("x2", 65).attr("y1", 647).attr("y2", 647).attr("stroke", "#ff0000").attr("stroke-width", 4);
leg.append("text").attr("x", 75).attr("y", 651).text("Moyenne des scénarios");
leg.append("line").attr("x1", 225).attr("x2", 255).attr("y1", 637).attr("y2", 637).attr("stroke", "#0000ff").attr("stroke-width", 4);
leg.append("text").attr("x", 265).attr("y", 641).text("Run de contrôle");
leg.append("line").attr("x1", 225).attr("x2", 255).attr("y1", 647).attr("y2", 647).attr("stroke", "#000").attr("stroke-width", 4);
leg.append("text").attr("x", 265).attr("y", 651).text("Run GFS");
leg.append("text").attr("x", 340).attr("y", 657).text("30 Perts.");
leg.append("text").attr("x", 180).attr("y", 664).text("Altitude du modele : 69m");

const sw = svg.append("g");
memberNames.forEach((n, k) => {
  const bx = 400 + 10.97 * k;
  sw.append("rect").attr("x", bx).attr("y", 650).attr("width", 10).attr("height", 6).attr("fill", memberColors[k]);
  sw.append("text").attr("x", bx + 5).attr("y", 647.5).attr("text-anchor", "middle")
    .attr("font-size", 8).text(n);
});

// title box
svg.append("rect").attr("x", 21).attr("y", 667).attr("width", 419).attr("height", 40)
  .attr("fill", "none").attr("stroke", "#000").attr("stroke-width", 2);
svg.append("text").attr("x", 29).attr("y", 680).attr("font-size", 11.6).attr("font-weight", "bold")
  .text("Diagramme des ensembles GEFS sur 384h : 51.1N 5.8E");
svg.append("text").attr("x", 29).attr("y", 696).attr("font-size", 10)
  .text("Température 2m (°C) , précipitations (mm)");
svg.append("text").attr("x", 449).attr("y", 677).attr("font-size", 10)
  .text("Ensemble GEFS du 13/12/2021 - 00Z");
svg.append("text").attr("x", 449).attr("y", 697).attr("font-size", 11.6).attr("font-weight", "bold")
  .text("Copyright 2021 Meteociel.fr");
</script>
</body>
</html>
